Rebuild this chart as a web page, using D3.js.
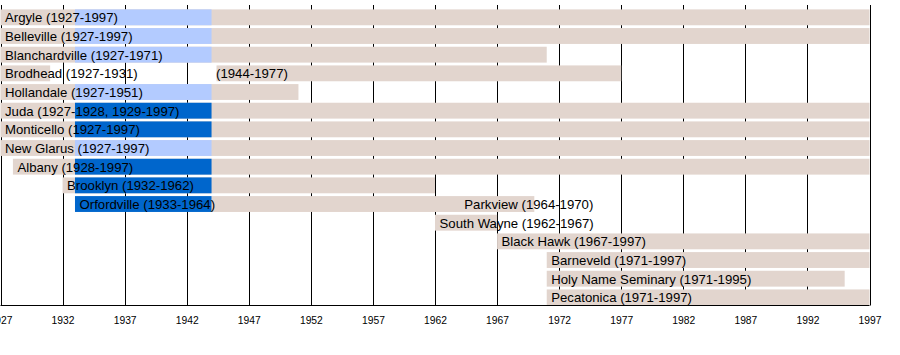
<!DOCTYPE html>
<html>
<head>
<meta charset="utf-8">
<script src="https://cdn.jsdelivr.net/npm/d3@7"></script>
<style>
  html, body { margin: 0; padding: 0; background: #fff; }
  svg { display: block; }
</style>
</head>
<body>
<div id="chart"></div>
<script>
// ---- data ----
const rows = ["Argyle", "Belleville", "Blanchardville", "Brodhead", "Hollandale", "Juda",
  "Monticello", "New Glarus", "Albany", "Brooklyn", "Orfordville / Parkview", "South Wayne",
  "Black Hawk", "Barneveld", "Holy Name Seminary", "Pecatonica"];

// [rowIndex, startYear, endYear, kind]
const membership = [
  [0, 1927, 1997, "member"],
  [1, 1927, 1997, "member"],
  [2, 1927, 1971, "member"],
  [3, 1927, 1931, "member"],
  [3, 1944.4, 1977, "member"],
  [4, 1927, 1951, "member"],
  [5, 1927, 1997, "member"],
  [6, 1927, 1997, "member"],
  [7, 1927, 1997, "member"],
  [8, 1928, 1997, "member"],
  [9, 1932, 1962, "member"],
  [10, 1944, 1970, "member"],
  [11, 1962, 1967, "member"],
  [12, 1967, 1997, "member"],
  [13, 1971, 1997, "member"],
  [14, 1971, 1995, "member"],
  [15, 1971, 1997, "member"]
];

// [rowIndex, startYear, endYear, kind]
const divisions = [
  [0, 1933, 1944, "light"],
  [1, 1933, 1944, "light"],
  [2, 1933, 1944, "light"],
  [4, 1933, 1944, "light"],
  [5, 1933, 1944, "dark"],
  [6, 1933, 1944, "dark"],
  [7, 1933, 1944, "light"],
  [8, 1933, 1944, "dark"],
  [9, 1933, 1944, "dark"],
  [10, 1933, 1944, "dark"]
];

// [rowIndex, anchorYear, text]
const labels = [
  [0, 1927, "Argyle (1927-1997)"],
  [1, 1927, "Belleville (1927-1997)"],
  [2, 1927, "Blanchardville (1927-1971)"],
  [3, 1927, "Brodhead (1927-1931)"],
  [3, 1944, "(1944-1977)"],
  [4, 1927, "Hollandale (1927-1951)"],
  [5, 1927, "Juda (1927-1928, 1929-1997)"],
  [6, 1927, "Monticello (1927-1997)"],
  [7, 1927, "New Glarus (1927-1997)"],
  [8, 1928, "Albany (1928-1997)"],
  [9, 1932, "Brooklyn (1932-1962)"],
  [10, 1933, "Orfordville (1933-1964)"],
  [10, 1964, "Parkview (1964-1970)"],
  [11, 1962, "South Wayne (1962-1967)"],
  [12, 1967, "Black Hawk (1967-1997)"],
  [13, 1971, "Barneveld (1971-1997)"],
  [14, 1971, "Holy Name Seminary (1971-1995)"],
  [15, 1971, "Pecatonica (1971-1997)"]
];

const tickYears = [1927, 1932, 1937, 1942, 1947, 1952, 1957, 1962, 1967, 1972, 1977, 1982, 1987, 1992, 1997];

const colors = { member: "#e2d5ce", light: "#b3cbff", dark: "#0066cc" };

// ---- layout ----
const W = 900, H = 355;
const svg = d3.select("#chart").append("svg").attr("width", W).attr("height", H);
svg.append("rect").attr("width", W).attr("height", H).attr("fill", "#fff");

const x = d3.scaleLinear().domain([1927, 1997]).range([0.5, 869.5]);
const y = d3.scaleBand().domain(d3.range(rows.length)).range([8, 306.7]).paddingInner(0.15).paddingOuter(0.075);
const axisY = 305.5;
const font = "'Liberation Sans', Arial, Helvetica, sans-serif";

// grid lines
svg.append("g").selectAll("line").data(tickYears).join("line")
  .attr("x1", d => Math.round(x(d)) + 0.5).attr("x2", d => Math.round(x(d)) + 0.5)
  .attr("y1", 5).attr("y2", axisY)
  .attr("stroke", "#000").attr("stroke-width", 1);

// membership bars
svg.append("g").selectAll("rect").data(membership).join("rect")
  .attr("x", d => x(d[1])).attr("width", d => x(d[2]) - x(d[1]))
  .attr("y", d => y(d[0])).attr("height", y.bandwidth())
  .attr("fill", d => colors[d[3]]);

// division bars
svg.append("g").selectAll("rect").data(divisions).join("rect")
  .attr("x", d => x(d[1])).attr("width", d => x(d[2]) - x(d[1]))
  .attr("y", d => y(d[0])).attr("height", y.bandwidth())
  .attr("fill", d => colors[d[3]]);

// labels
svg.append("g").selectAll("text").data(labels).join("text")
  .attr("x", d => x(d[1]) + 4.5)
  .attr("y", d => y(d[0]) + 13)
  .attr("font-family", font)
  .attr("font-size", 13.2)
  .attr("fill", "#000")
  .text(d => d[2]);

// axis
const axis = d3.axisBottom(x).tickValues(tickYears).tickFormat(d3.format("d")).tickSize(0).tickPadding(11);
const gAxis = svg.append("g").attr("transform", `translate(0,${axisY})`).call(axis);
gAxis.select(".domain").attr("stroke", "#000").attr("d", `M${x(1927)},0H${x(1997)}`);
gAxis.selectAll("text").attr("font-family", font)
  .attr("font-size", 10.3).attr("fill", "#000");
</script>
</body>
</html>
